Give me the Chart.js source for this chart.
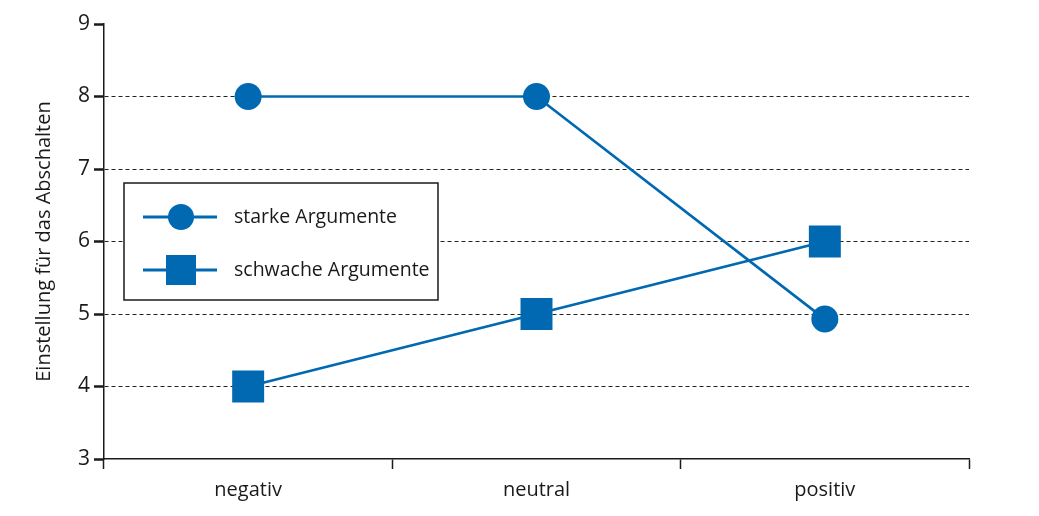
<!DOCTYPE html>
<html lang="de">
<head>
    <meta charset="UTF-8">
    <title>Einstellung für das Abschalten</title>
    <script src="https://cdn.jsdelivr.net/npm/chart.js"></script>
    <style>
        html, body {
            margin: 0;
            padding: 0;
            background: #ffffff;
        }
        .chart-box {
            position: relative;
            width: 1039px;
            height: 516px;
        }
    </style>
</head>
<body>
    <div class="chart-box">
        <canvas id="einstellungChart"></canvas>
    </div>

    <script>
        // Daten
        const kategorien = ['negativ', 'neutral', 'positiv'];
        const starkeArgumente = [8, 8, 4.93];
        const schwacheArgumente = [4, 5, 6];
        const yTicks = [3, 4, 5, 6, 7, 8, 9];

        const blau = '#0069b1';
        const schrift = '"Open Sans", "Noto Sans", sans-serif';
        const textFarbe = '#1a1a1a';

        // Legende mit Rahmen im Diagramm
        const legendeImDiagramm = {
            id: 'legendeImDiagramm',
            afterDatasetsDraw(chart) {
                const ctx = chart.ctx;
                const area = chart.chartArea;
                const x = area.left + 20;
                const y = area.top + 159;
                const w = 314;
                const h = 117;

                ctx.save();
                ctx.fillStyle = '#ffffff';
                ctx.fillRect(x, y, w, h);
                ctx.strokeStyle = textFarbe;
                ctx.lineWidth = 1.5;
                ctx.strokeRect(x, y, w, h);

                chart.data.datasets.forEach((ds, i) => {
                    const rowY = y + 34 + i * 53;
                    const mx = x + 57;
                    ctx.strokeStyle = ds.borderColor;
                    ctx.lineWidth = 3;
                    ctx.beginPath();
                    ctx.moveTo(x + 19, rowY);
                    ctx.lineTo(x + 93, rowY);
                    ctx.stroke();

                    ctx.fillStyle = ds.backgroundColor;
                    if (ds.pointStyle === 'rect') {
                        ctx.fillRect(mx - 15, rowY - 15, 30, 30);
                    } else {
                        ctx.beginPath();
                        ctx.arc(mx, rowY, 13, 0, Math.PI * 2);
                        ctx.fill();
                    }

                    ctx.fillStyle = textFarbe;
                    ctx.font = '19.5px ' + schrift;
                    ctx.textBaseline = 'middle';
                    ctx.textAlign = 'left';
                    ctx.fillText(ds.label, x + 110, rowY);
                });
                ctx.restore();
            }
        };

        const ctx = document.getElementById('einstellungChart').getContext('2d');
        new Chart(ctx, {
            type: 'line',
            data: {
                labels: kategorien,
                datasets: [
                    {
                        label: 'starke Argumente',
                        data: starkeArgumente,
                        borderColor: blau,
                        backgroundColor: blau,
                        borderWidth: 2.7,
                        pointStyle: 'circle',
                        pointRadius: 13.5,
                        pointBorderWidth: 0,
                        tension: 0
                    },
                    {
                        label: 'schwache Argumente',
                        data: schwacheArgumente,
                        borderColor: blau,
                        backgroundColor: blau,
                        borderWidth: 2.7,
                        pointStyle: 'rect',
                        pointRadius: 22.6,
                        pointBorderWidth: 0,
                        tension: 0
                    }
                ]
            },
            options: {
                responsive: true,
                maintainAspectRatio: false,
                animation: false,
                layout: {
                    padding: { left: 0, right: 70, top: 24, bottom: 0 }
                },
                plugins: {
                    legend: { display: false },
                    tooltip: { enabled: false }
                },
                scales: {
                    x: {
                        offset: true,
                        afterFit(scale) { scale.height = 57; },
                        grid: {
                            offset: true,
                            drawOnChartArea: false,
                            tickLength: 10,
                            tickColor: textFarbe,
                            tickWidth: 1.5
                        },
                        border: { color: textFarbe, width: 1.5 },
                        ticks: {
                            color: textFarbe,
                            padding: 9,
                            font: { family: schrift, size: 20 }
                        }
                    },
                    y: {
                        min: 3,
                        max: 9,
                        afterBuildTicks(scale) {
                            scale.ticks = yTicks.map(v => ({ value: v }));
                        },
                        afterFit(scale) { scale.width = 104; },
                        grid: {
                            color: c => (c.tick && (c.tick.value === 3 || c.tick.value === 9)) ? 'rgba(0,0,0,0)' : '#222222',
                            lineWidth: 1,
                            tickLength: 10,
                            tickColor: textFarbe,
                            tickWidth: 2.5,
                            tickBorderDash: []
                        },
                        border: { color: textFarbe, width: 1.5, dash: [4, 3] },
                        ticks: {
                            color: textFarbe,
                            padding: 4,
                            font: { family: schrift, size: 21 }
                        },
                        title: {
                            display: true,
                            text: 'Einstellung für das Abschalten',
                            color: textFarbe,
                            padding: { top: 32, bottom: 0 },
                            font: { family: schrift, size: 20 }
                        }
                    }
                }
            },
            plugins: [legendeImDiagramm]
        });
    </script>
</body>
</html>
